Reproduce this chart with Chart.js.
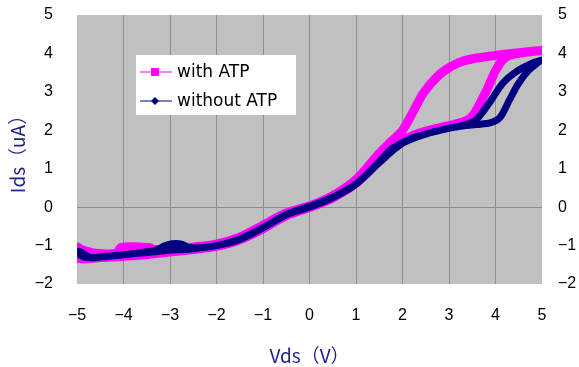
<!DOCTYPE html>
<html>
<head>
<meta charset="utf-8">
<script src="https://cdn.jsdelivr.net/npm/chart.js@4.4.1/dist/chart.umd.min.js"></script>
<style>
  html, body { margin: 0; padding: 0; background: #ffffff; }
  #wrap { width: 579px; height: 367px; position: relative; }
</style>
</head>
<body>
<div id="wrap"><canvas id="ivChart"></canvas></div>
<script>
// Vds sweep -5 -> 5 -> -5
const vdsWithFwd = [-5.0, -4.8, -4.5, -4.0, -3.5, -3.0, -2.5, -2.0, -1.5, -1.0, -0.5, 0, 0.5, 1.0, 1.5, 1.75, 2.0, 2.25, 2.5, 2.8, 3.1, 3.4, 3.55, 3.7, 3.85, 4.0, 4.15, 4.3, 4.6, 5.0];
const idsWithFwd = [-1.33, -1.34, -1.31, -1.28, -1.23, -1.17, -1.1, -1.02, -0.85, -0.56, -0.22, -0.01, 0.24, 0.62, 1.2, 1.48, 1.72, 1.88, 1.98, 2.07, 2.15, 2.27, 2.45, 2.78, 3.15, 3.55, 3.82, 3.95, 4.02, 4.08];
const vdsWithRev = [5.0, 4.6, 4.2, 4.0, 3.6, 3.25, 3.0, 2.75, 2.45, 2.25, 2.0, 1.75, 1.5, 1.0, 0.5, 0, -0.5, -1.0, -1.5, -2.0, -2.5, -3.0, -3.35, -3.45, -4.05, -4.15, -4.6, -4.9, -5.0];
const idsWithRev = [4.08, 4.03, 3.98, 3.95, 3.88, 3.78, 3.63, 3.4, 2.97, 2.53, 2.0, 1.7, 1.4, 0.72, 0.3, 0.03, -0.15, -0.47, -0.78, -0.96, -1.04, -1.1, -1.1, -1.05, -1.05, -1.2, -1.2, -1.1, -1.03];

const vdsWithoutFwd = [-5.0, -4.95, -4.85, -4.7, -4.4, -4.0, -3.6, -3.3, -3.1, -2.95, -2.75, -2.6, -2.4, -2.0, -1.5, -1.0, -0.5, 0, 0.5, 1.0, 1.5, 1.75, 2.0, 2.25, 2.5, 2.8, 3.2, 3.6, 3.9, 4.1, 4.3, 4.5, 4.72, 4.9, 5.0];
const idsWithoutFwd = [-1.2, -1.15, -1.22, -1.32, -1.28, -1.24, -1.18, -1.12, -1.0, -0.95, -0.96, -1.05, -1.06, -1.0, -0.83, -0.53, -0.19, 0.02, 0.26, 0.6, 1.18, 1.5, 1.68, 1.82, 1.9, 2.0, 2.1, 2.15, 2.2, 2.34, 2.79, 3.23, 3.57, 3.75, 3.83];
const vdsWithoutRev = [5.0, 4.8, 4.44, 4.16, 3.86, 3.58, 3.3, 3.0, 2.5, 2.0, 1.5, 1.0, 0.5, 0, -0.5, -1.0, -1.5, -2.0, -2.5, -3.0, -3.5, -4.0, -4.5, -4.85, -5.0];
const idsWithoutRev = [3.83, 3.75, 3.52, 3.23, 2.7, 2.27, 2.13, 2.05, 1.9, 1.66, 1.16, 0.6, 0.25, 0.0, -0.2, -0.54, -0.84, -1.0, -1.08, -1.12, -1.18, -1.24, -1.3, -1.3, -1.18];

const xTicks = [-5, -4, -3, -2, -1, 0, 1, 2, 3, 4, 5];
const yTicks = [-2, -1, 0, 1, 2, 3, 4, 5];
const seriesNames = ["with ATP", "without ATP"];

const PINK = "#ff00ff";
const NAVY = "#000080";
const TITLE_COLOR = "#1f1f8c";

function toPoints(xs, ys) {
  return xs.map((x, i) => ({ x: x, y: ys[i] }));
}

function minusLabel(v) {
  return v < 0 ? "\u2212" + Math.abs(v) : String(v);
}

// grey plot background
const plotBackground = {
  id: "plotBackground",
  beforeDraw(chart) {
    const a = chart.chartArea;
    const ctx = chart.ctx;
    ctx.save();
    ctx.fillStyle = "#c0c0c0";
    ctx.fillRect(a.left, a.top, a.right - a.left, a.bottom - a.top);
    ctx.restore();
  }
};

// boxed legend sitting inside the plot, upper left
const boxLegend = {
  id: "boxLegend",
  afterDatasetsDraw(chart) {
    const ctx = chart.ctx;
    ctx.save();
    ctx.fillStyle = "#ffffff";
    ctx.fillRect(136, 55, 160, 60);
    const rows = [
      { y: 72, color: PINK, marker: "square" },
      { y: 101, color: NAVY, marker: "diamond" }
    ];
    rows.forEach((r, i) => {
      ctx.strokeStyle = r.color;
      ctx.lineWidth = 1;
      ctx.beginPath();
      ctx.moveTo(140, r.y);
      ctx.lineTo(172, r.y);
      ctx.stroke();
      ctx.fillStyle = r.color;
      if (r.marker === "square") {
        ctx.fillRect(151, r.y - 4, 8, 8);
      } else {
        ctx.beginPath();
        ctx.moveTo(155, r.y - 4);
        ctx.lineTo(159, r.y);
        ctx.lineTo(155, r.y + 4);
        ctx.lineTo(151, r.y);
        ctx.closePath();
        ctx.fill();
      }
      ctx.fillStyle = "#000000";
      ctx.font = "17px 'DejaVu Sans'";
      ctx.textBaseline = "middle";
      ctx.textAlign = "left";
      ctx.fillText(seriesNames[i], 177, r.y + 1);
    });
    ctx.restore();
  }
};

const tickFont = { family: "'Liberation Sans', Arial", size: 16 };
const titleFont = { family: "'Noto Sans CJK JP'", size: 19 };

// keep the plot box where the original had it
function fixY(width) {
  return (s) => { s.width = width; s.paddingTop = 0; s.paddingBottom = 0; };
}

new Chart(document.getElementById("ivChart"), {
  type: "scatter",
  data: {
    datasets: [
      {
        label: seriesNames[0],
        data: toPoints(vdsWithFwd.concat(vdsWithRev), idsWithFwd.concat(idsWithRev)),
        showLine: true,
        borderColor: PINK,
        backgroundColor: PINK,
        borderWidth: 9,
        pointRadius: 0,
        tension: 0.3,
        borderCapStyle: "round",
        borderJoinStyle: "round",
        order: 2
      },
      {
        label: seriesNames[1],
        data: toPoints(vdsWithoutFwd.concat(vdsWithoutRev), idsWithoutFwd.concat(idsWithoutRev)),
        showLine: true,
        borderColor: NAVY,
        backgroundColor: NAVY,
        borderWidth: 7,
        pointRadius: 0,
        tension: 0.3,
        borderCapStyle: "round",
        borderJoinStyle: "round",
        order: 1
      }
    ]
  },
  options: {
    responsive: true,
    maintainAspectRatio: false,
    animation: false,
    layout: { padding: { top: 15, left: 0, right: 0, bottom: 0 } },
    plugins: {
      legend: { display: false },
      tooltip: { enabled: false }
    },
    scales: {
      x: {
        type: "linear",
        min: -5,
        max: 5,
        afterBuildTicks: (s) => { s.ticks = xTicks.map(v => ({ value: v })); },
        afterFit: (s) => { s.height = 83; s.paddingLeft = 0; s.paddingRight = 0; },
        ticks: {
          color: "#000000",
          font: tickFont,
          padding: 22,
          maxRotation: 0,
          callback: (v) => minusLabel(v)
        },
        grid: {
          drawTicks: false,
          color: (c) => (Math.abs(c.tick.value) === 5 ? "rgba(0,0,0,0)" : "#8e8e8e")
        },
        border: { display: false },
        title: {
          display: true,
          text: "Vds\uff08V\uff09",
          color: TITLE_COLOR,
          font: titleFont,
          padding: { top: 4, bottom: 0 }
        }
      },
      y: {
        type: "linear",
        position: "left",
        min: -2,
        max: 5,
        afterBuildTicks: (s) => { s.ticks = yTicks.map(v => ({ value: v })); },
        afterFit: fixY(77),
        ticks: {
          color: "#000000",
          font: tickFont,
          padding: 24,
          callback: (v) => minusLabel(v)
        },
        grid: {
          drawTicks: false,
          color: (c) => (c.tick.value === 0 ? "#8e8e8e" : "rgba(0,0,0,0)")
        },
        border: { display: false },
        title: {
          display: true,
          text: "Ids\uff08uA\uff09",
          color: TITLE_COLOR,
          font: titleFont,
          padding: { top: 6, bottom: 0 }
        }
      },
      y2: {
        type: "linear",
        position: "right",
        min: -2,
        max: 5,
        afterBuildTicks: (s) => { s.ticks = yTicks.map(v => ({ value: v })); },
        afterFit: fixY(37),
        ticks: {
          color: "#000000",
          font: tickFont,
          padding: 16,
          callback: (v) => minusLabel(v)
        },
        grid: { display: false, drawTicks: false },
        border: { display: false }
      }
    }
  },
  plugins: [plotBackground, boxLegend]
});
</script>
</body>
</html>
